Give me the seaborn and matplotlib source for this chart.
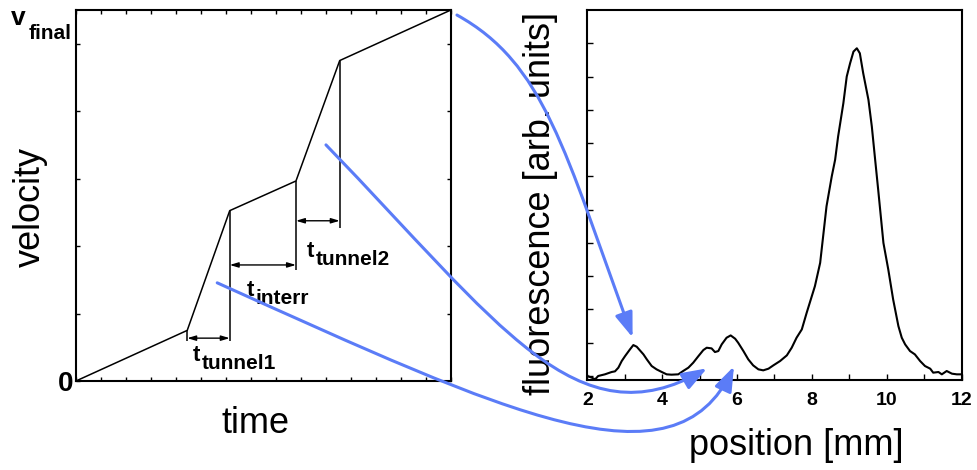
import numpy as np
import matplotlib
matplotlib.use("Agg")
import matplotlib.pyplot as plt
import seaborn as sns
from matplotlib.patches import FancyArrowPatch
from matplotlib.path import Path

# ---- velocity ramp (arbitrary units) ----
ramp_time = [0.0, 4.45, 6.15, 8.8, 10.55, 15.0]
ramp_velocity = [0.0, 1.5, 5.05, 5.93, 9.5, 11.0]

# vertical marker lines at the ramp kinks
marker_x = [4.45, 6.15, 8.8, 10.55]
marker_top = [1.5, 5.05, 5.93, 9.5]
marker_bottom = [1.19, 1.19, 3.29, 4.53]

# interval arrows and their labels
interval_start = [4.45, 6.15, 8.8]
interval_end = [6.15, 8.8, 10.55]
interval_level = [1.27, 3.44, 4.75]
interval_names = ["tunnel1", "interr", "tunnel2"]
label_x = [4.69, 6.83, 9.23]
label_y = [0.60, 2.52, 3.68]

# ---- fluorescence profile ----
position_mm = [2.00, 2.12, 2.21, 2.29, 2.47, 2.65, 2.74, 2.83, 2.92, 3.01,
               3.14, 3.23, 3.32, 3.50, 3.59, 3.72, 3.85, 3.99, 4.12, 4.25,
               4.43, 4.56, 4.70, 4.83, 4.97, 5.10, 5.19, 5.32, 5.41, 5.50,
               5.59, 5.72, 5.83, 5.95, 6.03, 6.17, 6.30, 6.43, 6.57, 6.70,
               6.84, 6.97, 7.15, 7.33, 7.46, 7.59, 7.73, 7.86, 8.08, 8.22,
               8.30, 8.39, 8.53, 8.62, 8.70, 8.84, 8.93, 9.02, 9.11, 9.20,
               9.28, 9.37, 9.51, 9.60, 9.68, 9.77, 9.91, 10.04, 10.17, 10.31,
               10.40, 10.49, 10.62, 10.75, 10.89, 11.02, 11.16, 11.24, 11.38, 11.47,
               11.60, 11.74, 11.87, 12.00]
fluorescence = [0.000, -0.005, -0.010, 0.000, 0.005, 0.012, 0.014, 0.025, 0.045, 0.060,
                0.080, 0.093, 0.088, 0.065, 0.050, 0.030, 0.020, 0.012, 0.005, 0.004,
                0.005, 0.015, 0.025, 0.040, 0.060, 0.078, 0.085, 0.083, 0.072, 0.075,
                0.095, 0.115, 0.122, 0.112, 0.100, 0.075, 0.050, 0.032, 0.020, 0.017,
                0.022, 0.032, 0.045, 0.062, 0.085, 0.115, 0.140, 0.190, 0.270, 0.340,
                0.420, 0.510, 0.600, 0.650, 0.720, 0.820, 0.900, 0.940, 0.975, 0.985,
                0.970, 0.910, 0.830, 0.750, 0.660, 0.560, 0.400, 0.320, 0.230, 0.150,
                0.115, 0.095, 0.075, 0.065, 0.045, 0.030, 0.022, 0.010, 0.012, 0.005,
                0.015, 0.007, 0.005, 0.005]

# ---- connecting arrows: ramp segment -> fluorescence peak ----
arrow_start = [(15.24, 10.85), (10.0, 7.0), (5.65, 2.91)]      # ramp axes data
arrow_end = [(3.21, 0.116), (5.197, 0.023), (5.918, 0.029)]     # profile axes data
handle_start = [(87.5, -48.5), (174.0, -180.0), (291.0, -131.0)]  # pixels
handle_end = [(-68.4, 188.0), (-130.0, -75.0), (-59.2, -126.8)]   # pixels

BLUE = "#5b7cf7"

sns.set_style("white")
plt.rcParams["font.family"] = ["Liberation Sans", "DejaVu Sans"]
plt.rcParams.update({
    "axes.linewidth": 1.5,
    "text.color": "black",
    "axes.labelcolor": "black",
    "xtick.color": "black",
    "ytick.color": "black",
    "axes.edgecolor": "black",
})

fig = plt.figure(figsize=(9.78, 4.70), dpi=100)
ax1 = fig.add_axes([0.0777, 0.1894, 0.3834, 0.7894])
ax2 = fig.add_axes([0.6005, 0.1915, 0.3828, 0.7872])

# ---------- left panel: velocity vs time ----------
sns.lineplot(x=ramp_time, y=ramp_velocity, ax=ax1, color="black", lw=1.1)
ax1.vlines(marker_x, marker_bottom, marker_top, color="black", lw=1.1)
for x0, x1, lvl in zip(interval_start, interval_end, interval_level):
    ax1.annotate("", xy=(x1, lvl), xytext=(x0, lvl),
                 arrowprops=dict(arrowstyle="<|-|>,head_length=0.5,head_width=0.15",
                                 color="black", lw=1.0, shrinkA=0, shrinkB=0))
for name, x, y in zip(interval_names, label_x, label_y):
    ax1.text(x, y, "t", fontsize=16, fontweight="bold", ha="left", va="baseline")
    ax1.annotate(name, xy=(x, y), xytext=(6.4, -5.6), textcoords="offset points",
                 fontsize=15, fontweight="bold", ha="left", va="baseline")

ax1.set_xlim(0, 15)
ax1.set_ylim(0, 11)
ax1.set_xticks(np.arange(0, 16, 1))
ax1.set_xticklabels([])
ax1.set_yticks([0, 2, 4, 6, 8, 10])
ax1.set_yticklabels(["0", "", "", "", "", ""])
ax1.tick_params(direction="in", bottom=True, left=True, top=True, right=True,
                length=3, width=1.0)
ax1.tick_params(axis="y", labelsize=20, pad=2)
for lab in ax1.get_yticklabels():
    lab.set_fontweight("bold")
ax1.text(-0.1730, 0.9596, "v", transform=ax1.transAxes, fontsize=19,
         fontweight="bold", ha="left", va="baseline")
ax1.text(-0.1255, 0.9218, "final", transform=ax1.transAxes, fontsize=15,
         fontweight="bold", ha="left", va="baseline")

ax1.set_xlabel("time", fontsize=26)
ax1.xaxis.label.set_va("baseline")
ax1.xaxis.set_label_coords(0.479, -0.141)
ax1.set_ylabel("velocity", fontsize=26)
ax1.yaxis.label.set_va("center")
ax1.yaxis.set_label_coords(-0.1227, 0.47)

# ---------- right panel: fluorescence profile ----------
sns.lineplot(x=position_mm, y=fluorescence, ax=ax2, color="black", lw=1.5)
ax2.set_xlim(2, 12)
ax2.set_ylim(-0.012, 1.10)
ax2.set_xticks([2, 4, 6, 8, 10, 12])
ax2.set_xticks([3, 5, 7, 9, 11], minor=True)
ax2.set_yticks(np.arange(0, 1.01, 0.1))
ax2.set_yticklabels([])
ax2.tick_params(direction="in", which="both", length=4, width=1.0,
                bottom=True, left=True, top=False, right=False)
ax2.tick_params(axis="x", labelsize=14, pad=9)
for lab in ax2.get_xticklabels():
    lab.set_fontweight("bold")
ax2.set_xlabel("position [mm]", fontsize=26)
ax2.xaxis.label.set_va("baseline")
ax2.xaxis.set_label_coords(0.557, -0.203)
ax2.set_ylabel("fluorescence [arb. units]", fontsize=26)
ax2.yaxis.label.set_va("center")
ax2.yaxis.set_label_coords(-0.126, 0.476)

# ---------- curved arrows spanning both panels ----------
to_fig = fig.transFigure.inverted()
for (sx, sy), (ex, ey), h0, h1 in zip(arrow_start, arrow_end, handle_start, handle_end):
    p0 = ax1.transData.transform((sx, sy))
    p3 = ax2.transData.transform((ex, ey))
    p1 = p0 + np.array(h0)
    p2 = p3 + np.array(h1)
    verts = to_fig.transform(np.array([p0, p1, p2, p3]))
    path = Path(verts, [Path.MOVETO, Path.CURVE4, Path.CURVE4, Path.CURVE4])
    arrow = FancyArrowPatch(path=path,
                            arrowstyle="-|>,head_length=0.75,head_width=0.27",
                            mutation_scale=20, lw=2.2, color=BLUE,
                            transform=fig.transFigure, zorder=10)
    fig.add_artist(arrow)

fig.savefig("out.png", dpi=100)
